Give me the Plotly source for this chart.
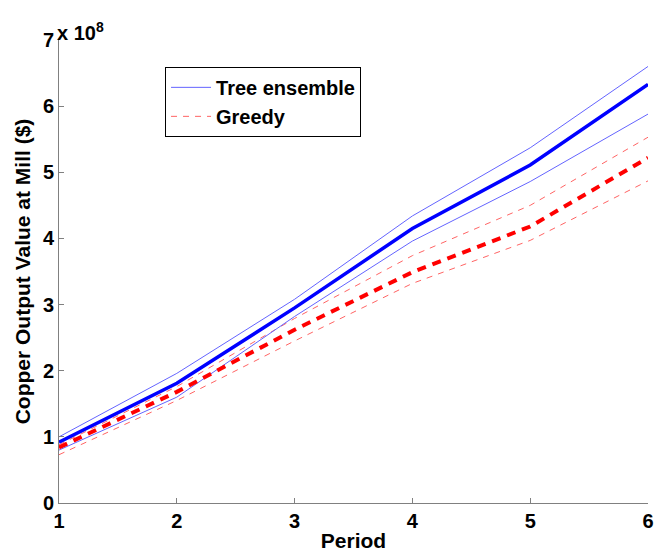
import plotly.graph_objects as go

periods = [1, 2, 3, 4, 5, 6]
# values in units of 1e8 $
tree_mean = [0.92, 1.81, 2.95, 4.15, 5.11, 6.33]
tree_upper = [1.00, 1.96, 3.08, 4.34, 5.37, 6.60]
tree_lower = [0.80, 1.60, 2.82, 3.96, 4.86, 5.88]
greedy_mean = [0.84, 1.68, 2.62, 3.49, 4.18, 5.22]
greedy_upper = [0.88, 1.76, 2.79, 3.74, 4.50, 5.53]
greedy_lower = [0.73, 1.55, 2.45, 3.32, 3.97, 4.87]
y_ticks = [0, 1, 2, 3, 4, 5, 6, 7]
x_ticks = [1, 2, 3, 4, 5, 6]

FONT = "Liberation Sans, Arial, Helvetica, sans-serif"
fig = go.Figure()

fig.add_trace(go.Scatter(x=periods, y=tree_upper, mode="lines", name="Tree ensemble",
                         line=dict(color="rgb(100,100,255)", width=1), legendgroup="t"))
fig.add_trace(go.Scatter(x=periods, y=greedy_upper, mode="lines", name="Greedy",
                         line=dict(color="rgb(255,100,100)", width=1, dash="6px,6px"), legendgroup="g"))
fig.add_trace(go.Scatter(x=periods, y=tree_lower, mode="lines", showlegend=False,
                         line=dict(color="rgb(100,100,255)", width=1)))
fig.add_trace(go.Scatter(x=periods, y=greedy_lower, mode="lines", showlegend=False,
                         line=dict(color="rgb(255,100,100)", width=1, dash="6px,6px")))
fig.add_trace(go.Scatter(x=periods, y=tree_mean, mode="lines", showlegend=False,
                         line=dict(color="rgb(0,0,255)", width=3.5)))
fig.add_trace(go.Scatter(x=periods, y=greedy_mean, mode="lines", showlegend=False,
                         line=dict(color="rgb(255,0,0)", width=4, dash="9px,7px")))

fig.update_layout(
    width=654, height=554,
    margin=dict(l=59, r=6, t=40, b=51),
    paper_bgcolor="white", plot_bgcolor="white",
    font=dict(family=FONT, size=21, color="black"),
    legend=dict(x=0.18, y=0.942, xanchor="left", yanchor="top",
                bordercolor="black", borderwidth=1, bgcolor="white",
                font=dict(family=FONT, size=20, weight="bold"),
                tracegroupgap=0, itemwidth=40),
    annotations=[dict(text="<b>x 10<sup>8</sup></b>", x=0, y=1.0, xref="paper", yref="paper",
                      xanchor="left", yanchor="bottom", showarrow=False,
                      font=dict(family=FONT, size=20), yshift=-6, xshift=-4)],
)
fig.update_xaxes(range=[1, 6], tickvals=x_ticks, showgrid=False, zeroline=False,
                 showline=True, linecolor="rgb(128,128,128)", linewidth=1,
                 ticks="inside", ticklen=5, tickcolor="rgb(128,128,128)", automargin=False,
                 tickfont=dict(family=FONT, size=20, weight="bold"),
                 title=dict(text="<b>Period</b>", font=dict(family=FONT, size=21), standoff=2))
fig.update_yaxes(range=[0, 7], tickvals=y_ticks, showgrid=False, zeroline=False,
                 showline=True, linecolor="rgb(128,128,128)", linewidth=1,
                 ticks="inside", ticklen=5, tickcolor="rgb(128,128,128)", automargin=False,
                 tickfont=dict(family=FONT, size=20, weight="bold"),
                 title=dict(text="<b>Copper Output Value at Mill ($)</b>", font=dict(family=FONT, size=21), standoff=6))

fig.write_html("out.html")
